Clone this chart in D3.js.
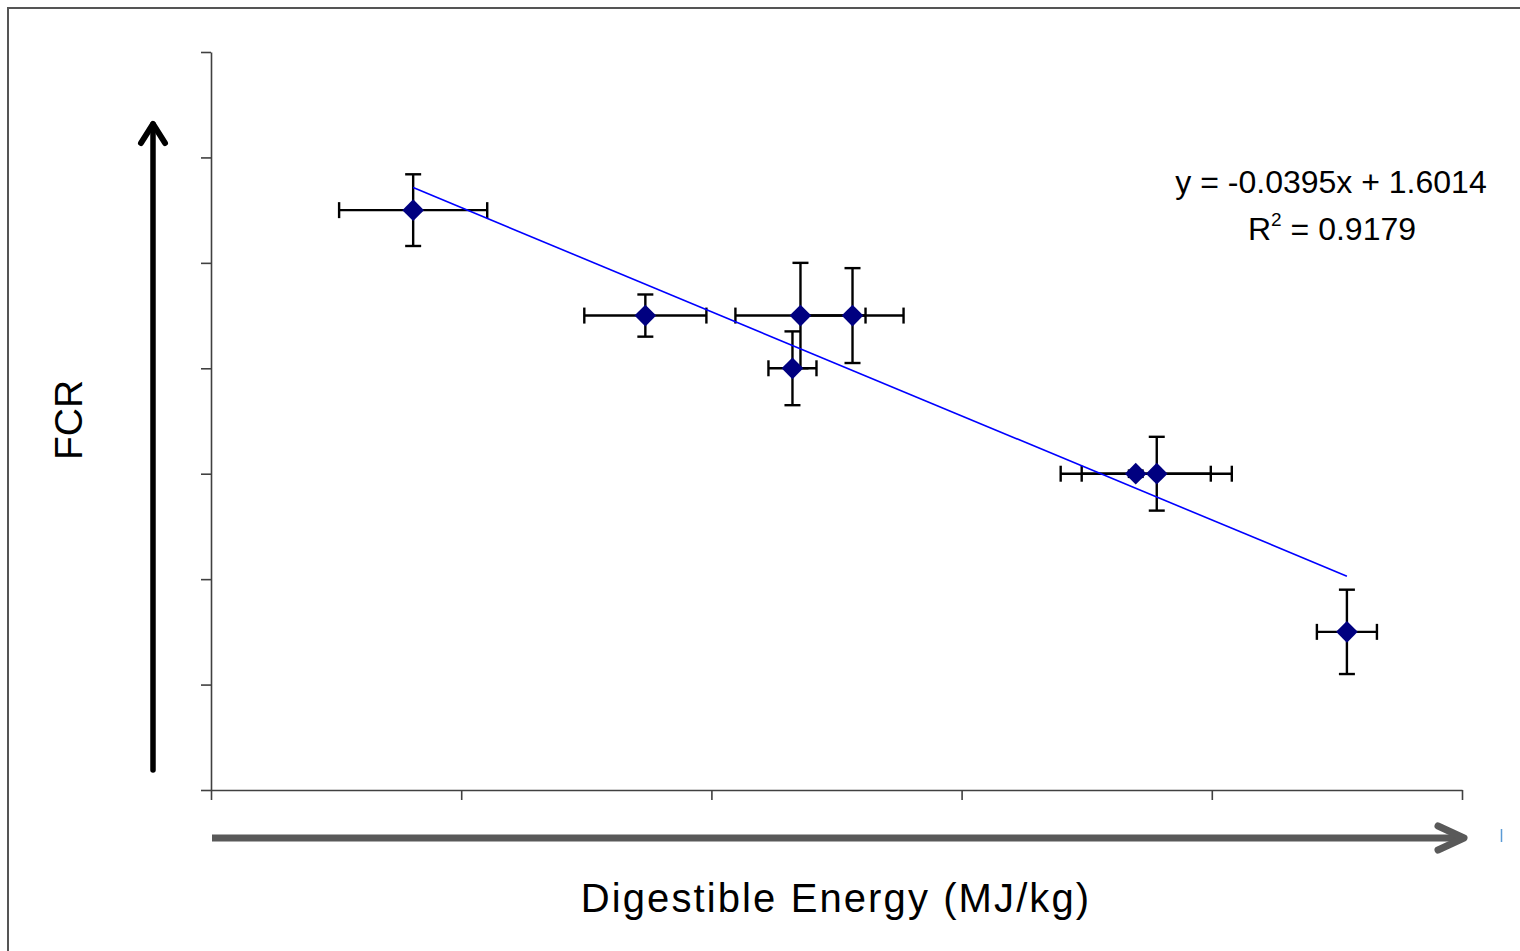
<!DOCTYPE html>
<html>
<head>
<meta charset="utf-8">
<script src="https://cdn.jsdelivr.net/npm/d3@7"></script>
<style>
  html, body { margin: 0; padding: 0; background: #fff; }
  svg { display: block; }
  text { font-family: "Liberation Sans", Arial, sans-serif; }
</style>
</head>
<body>
<svg id="chart" width="1520" height="951"></svg>
<script>
// ---- data ----
const deValues   = [15.95, 18.27, 19.82, 20.34, 19.74, 23.17, 23.38, 25.28];
const fcrValues  = [0.95, 0.85, 0.85, 0.85, 0.80, 0.70, 0.70, 0.55];
const deErrors   = [0.74, 0.61, 0.65, 0.51, 0.24, 0.75, 0.75, 0.30];
const fcrErrors  = [0.034, 0.020, 0.050, 0.045, 0.035, 0.003, 0.035, 0.040];
const trendSlope = -0.0395;
const trendIntercept = 1.6014;
const equationLines = ["y = -0.0395x + 1.6014", "R² = 0.9179"];
const xDomain = [13.93, 26.43];
const yDomain = [0.4, 1.1];
const xTickValues = [13.93, 16.43, 18.93, 21.43, 23.93, 26.43];
const yTickValues = [0.4, 0.5, 0.6, 0.7, 0.8, 0.9, 1.0, 1.1];
const xTitle = "Digestible Energy (MJ/kg)";
const yTitle = "FCR";

const svg = d3.select("#chart");
const plot = { left: 211, right: 1462, top: 52, bottom: 790 };

const x = d3.scaleLinear().domain(xDomain).range([plot.left, plot.right]);
const y = d3.scaleLinear().domain(yDomain).range([plot.bottom, plot.top]);

// outer frame
svg.append("rect").attr("x", 8).attr("y", 8).attr("width", 1540).attr("height", 960)
  .attr("fill", "none").attr("stroke", "#555").attr("stroke-width", 2);

// axes
const axisColor = "#404040";
const gy = svg.append("g").attr("transform", `translate(${plot.left},0)`)
  .call(d3.axisLeft(y).tickValues(yTickValues).tickSize(10).tickSizeOuter(0).tickFormat(""));
const gx = svg.append("g").attr("transform", `translate(0,${plot.bottom})`)
  .call(d3.axisBottom(x).tickValues(xTickValues).tickSize(10).tickSizeOuter(0).tickFormat(""));
[gx, gy].forEach(g => {
  g.selectAll("path.domain").attr("stroke", axisColor).attr("stroke-width", 1.6);
  g.selectAll(".tick line").attr("stroke", axisColor).attr("stroke-width", 1.6);
});

const pts = deValues.map((d, i) => ({ x: d, y: fcrValues[i], ex: deErrors[i], ey: fcrErrors[i] }));

// error bars
const eb = svg.append("g").attr("stroke", "#000").attr("stroke-width", 2.4).attr("fill", "none");
const cap = 8;
pts.forEach(p => {
  const cx = x(p.x), cy = y(p.y);
  const x0 = x(p.x - p.ex), x1 = x(p.x + p.ex);
  const y0 = y(p.y + p.ey), y1 = y(p.y - p.ey);
  eb.append("line").attr("x1", x0).attr("x2", x1).attr("y1", cy).attr("y2", cy);
  eb.append("line").attr("x1", x0).attr("x2", x0).attr("y1", cy - cap).attr("y2", cy + cap);
  eb.append("line").attr("x1", x1).attr("x2", x1).attr("y1", cy - cap).attr("y2", cy + cap);
  eb.append("line").attr("x1", cx).attr("x2", cx).attr("y1", y0).attr("y2", y1);
  eb.append("line").attr("x1", cx - cap).attr("x2", cx + cap).attr("y1", y0).attr("y2", y0);
  eb.append("line").attr("x1", cx - cap).attr("x2", cx + cap).attr("y1", y1).attr("y2", y1);
});

// markers
const diamond = d3.symbol(d3.symbolSquare, 235);
svg.append("g").selectAll("path").data(pts).join("path")
  .attr("d", diamond)
  .attr("transform", p => `translate(${x(p.x)},${y(p.y)}) rotate(45)`)
  .attr("fill", "#000080");

// trendline
const xs = d3.extent(deValues);
const trend = xs.map(v => ({ x: v, y: trendIntercept + trendSlope * v }));
svg.append("path").datum(trend)
  .attr("d", d3.line().x(d => x(d.x)).y(d => y(d.y)))
  .attr("stroke", "#0000ff").attr("stroke-width", 1.6).attr("fill", "none");

// equation
svg.append("text").attr("x", 1331).attr("y", 193).attr("text-anchor", "middle")
  .attr("font-size", 32).attr("fill", "#000").text(equationLines[0]);
const r2 = svg.append("text").attr("x", 1332).attr("y", 240).attr("text-anchor", "middle")
  .attr("font-size", 32).attr("fill", "#000");
r2.append("tspan").text("R");
r2.append("tspan").attr("font-size", 19).attr("dy", -14).text("2");
r2.append("tspan").attr("dy", 14).text(" = 0.9179");

// arrows
const yArrow = svg.append("g").attr("stroke", "#000").attr("stroke-width", 5.5)
  .attr("fill", "none").attr("stroke-linecap", "round").attr("stroke-linejoin", "round");
yArrow.append("line").attr("x1", 153).attr("x2", 153).attr("y1", 770).attr("y2", 124);
yArrow.append("polyline").attr("points", "141,143 153,124 165,143").attr("stroke-width", 6);

const xArrow = svg.append("g").attr("stroke", "#595959").attr("stroke-width", 7)
  .attr("fill", "none").attr("stroke-linecap", "round").attr("stroke-linejoin", "round");
xArrow.append("line").attr("x1", 212).attr("x2", 1462).attr("y1", 838).attr("y2", 838)
  .attr("stroke-linecap", "butt");
xArrow.append("polyline").attr("points", "1438,826 1464,838 1438,850");

svg.append("line").attr("x1", 1501.5).attr("x2", 1501.5).attr("y1", 829).attr("y2", 842)
  .attr("stroke", "#5b9bd5").attr("stroke-width", 1.5);

// titles
svg.append("text").attr("x", 836).attr("y", 912).attr("text-anchor", "middle")
  .attr("font-size", 40).attr("letter-spacing", 2.1).attr("fill", "#000").text(xTitle);
svg.append("text").attr("transform", "translate(82,420) rotate(-90)").attr("text-anchor", "middle")
  .attr("font-size", 39).attr("fill", "#000").text(yTitle);
</script>
</body>
</html>
